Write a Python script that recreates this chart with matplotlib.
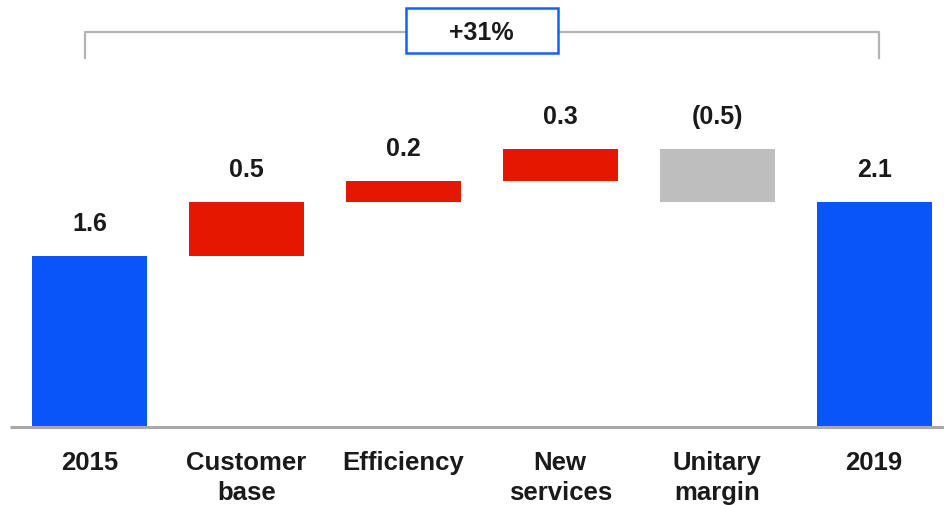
import matplotlib
matplotlib.use("Agg")
import matplotlib.pyplot as plt
from matplotlib.patches import Rectangle
import numpy as np

plt.rcParams['font.family'] = ['Liberation Sans', 'DejaVu Sans']

# Data
categories = ["2015", "Customer\nbase", "Efficiency", "New\nservices", "Unitary\nmargin", "2019"]
steps = [1.6, 0.5, 0.2, 0.3, -0.5, 2.1]
kinds = ["total", "up", "up", "up", "down", "total"]
value_labels = ["1.6", "0.5", "0.2", "0.3", "(0.5)", "2.1"]
growth_label = "+31%"

colors = {"total": "#0A55FA", "up": "#E61700", "down": "#BEBEBE"}

# Waterfall geometry
bottoms, heights = [], []
running = 0.0
for v, k in zip(steps, kinds):
    if k == "total":
        bottoms.append(0.0)
        heights.append(v)
        running = v
    else:
        bottoms.append(min(running, running + v))
        heights.append(abs(v))
        running += v
bottoms = np.array(bottoms)
heights = np.array(heights)
tops = bottoms + heights

fig = plt.figure(figsize=(9.45, 5.06), dpi=100)
ax = fig.add_axes([0, 0, 1, 1])
ax.set_xlim(-0.570, 5.452)
ax.set_ylim(-0.729, 4.0)
ax.axis("off")

x = np.arange(len(categories))
ax.bar(x, heights, bottom=bottoms, width=0.733,
       color=[colors[k] for k in kinds], zorder=2)

# baseline
ax.plot([-0.507, x[-1] + 0.6], [0, 0], color="#A8A8AA", lw=2.2, zorder=3,
        solid_capstyle="butt")

# value labels
for xi, t, lab in zip(x, tops, value_labels):
    ax.annotate(lab, (xi, t), xytext=(0, 15), textcoords="offset points",
                ha="center", va="bottom", fontsize=18, fontweight="bold",
                color="#1A1A1A")

# category labels
for xi, lab in zip(x, categories):
    ax.text(xi, -0.215, lab, ha="center", va="top", fontsize=18.5,
            fontweight="bold", color="#1A1A1A", linespacing=1.3)

# bracket on top
y_br = 3.69
ax.plot([x[0] - 0.03, x[0] - 0.03, x[-1] + 0.03, x[-1] + 0.03],
        [3.45, y_br, y_br, 3.45], color="#B4B4B4", lw=1.6, zorder=1)

# growth box
mid = (x[0] + x[-1]) / 2
box_w, box_h = 152 / 156.9, 45 / 107.0
ax.add_patch(Rectangle((mid - box_w / 2, 3.71 - box_h / 2), box_w, box_h,
                       facecolor="white", edgecolor="#1560FA", lw=1.8, zorder=4))
ax.text(mid, 3.69, growth_label, ha="center", va="center", fontsize=18,
        fontweight="bold", color="#1A1A1A", zorder=5)

fig.savefig("out.png", dpi=100)
